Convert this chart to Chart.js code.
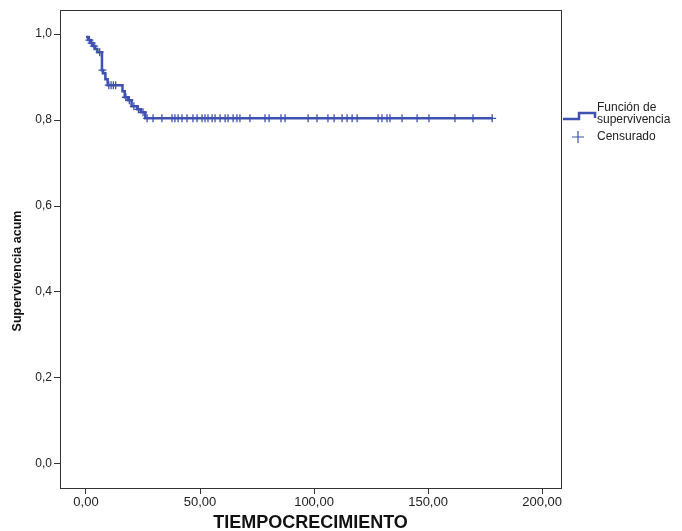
<!DOCTYPE html>
<html>
<head>
<meta charset="utf-8">
<script src="https://cdn.jsdelivr.net/npm/chart.js@4/dist/chart.umd.min.js"></script>
<style>
  html, body { margin: 0; padding: 0; background: #fff; }
  #wrap { width: 682px; height: 531px; position: relative; }
</style>
</head>
<body>
<div id="wrap"><canvas id="c" width="682" height="531"></canvas></div>
<script>
// ---- Data ----
const stepTimes = [0, 1, 2, 3, 4, 5, 7, 7.5, 8.5, 9.5, 16, 17, 18.5, 20, 22.5, 24, 26, 178.5];
const stepSurv  = [0.993, 0.986, 0.979, 0.972, 0.965, 0.958, 0.916, 0.909, 0.895, 0.881, 0.867, 0.853, 0.846, 0.832, 0.825, 0.818, 0.804, 0.804];
const censorTimes = [1.5, 2.5, 3.5, 6, 7.2, 10, 11, 12, 13, 17.5, 19, 21, 23, 25,
  26.8, 29.4, 33.3, 37.7, 39.0, 40.4, 42.1, 44.3, 46.9, 48.7, 50.9, 52.2, 53.5, 55.3, 56.6,
  58.8, 61.0, 62.3, 64.5, 66.2, 67.5, 71.9, 78.5, 80.3, 85.5, 87.3, 97.4, 101.3, 106.1,
  108.8, 112.3, 114.5, 116.7, 118.9, 128.1, 129.8, 132.0, 133.3, 138.6, 145.2, 150.4,
  161.8, 169.7, 178.1];
const xTicks = [0, 50, 100, 150, 200];
const yTicks = [0, 0.2, 0.4, 0.6, 0.8, 1.0];
const xTitle = 'TIEMPOCRECIMIENTO';
const yTitle = 'Supervivencia acum';
const legendLabels = ['Función de', 'supervivencia', 'Censurado'];

// survival value of the step function at time t (censor marks sit on the curve)
function survAt(t) {
  let s = stepSurv[0];
  for (let i = 0; i < stepTimes.length; i++) if (stepTimes[i] <= t) s = stepSurv[i];
  return s;
}

const BLUE = '#3F51B0';
const FONT = 'Arial, "Liberation Sans", sans-serif';

const framePlugin = {
  id: 'frame',
  afterDraw(chart) {
    const {ctx, chartArea: a} = chart;
    ctx.save();
    ctx.strokeStyle = '#333';
    ctx.lineWidth = 1;
    ctx.strokeRect(Math.round(a.left) + 0.5, Math.round(a.top) + 0.5,
                   Math.round(a.right - a.left), Math.round(a.bottom - a.top));
    // y axis title (placed as in the reference, below centre)
    ctx.save();
    ctx.translate(18, 271);
    ctx.rotate(-Math.PI / 2);
    ctx.fillStyle = '#111';
    ctx.font = 'bold 12.5px ' + FONT;
    ctx.textAlign = 'center';
    ctx.textBaseline = 'middle';
    ctx.fillText(yTitle, 0, 0);
    ctx.restore();
    // legend
    ctx.strokeStyle = BLUE;
    ctx.lineWidth = 2.5;
    ctx.beginPath();
    ctx.moveTo(563, 119); ctx.lineTo(579, 119); ctx.lineTo(579, 113);
    ctx.lineTo(595, 113); ctx.lineTo(595, 118);
    ctx.stroke();
    ctx.lineWidth = 1.2;
    ctx.beginPath();
    ctx.moveTo(572, 137); ctx.lineTo(584, 137);
    ctx.moveTo(578, 131); ctx.lineTo(578, 143);
    ctx.stroke();
    ctx.fillStyle = '#222';
    ctx.font = '12px ' + FONT;
    ctx.textBaseline = 'middle';
    ctx.textAlign = 'left';
    ctx.fillText(legendLabels[0], 597, 108);
    ctx.fillText(legendLabels[1], 597, 120);
    ctx.fillText(legendLabels[2], 597, 137);
    ctx.restore();
  }
};

new Chart(document.getElementById('c'), {
  type: 'line',
  data: {
    datasets: [
      {
        label: 'Función de supervivencia',
        data: stepTimes.map((t, i) => ({x: t, y: stepSurv[i]})),
        stepped: 'before',
        borderColor: BLUE,
        borderWidth: 2.5,
        pointRadius: 0,
        fill: false
      },
      {
        label: 'Censurado',
        data: censorTimes.map(t => ({x: t, y: survAt(t)})),
        showLine: false,
        pointStyle: 'cross',
        pointRadius: 4,
        borderColor: BLUE,
        backgroundColor: BLUE,
        pointBorderWidth: 1.3
      }
    ]
  },
  plugins: [framePlugin],
  options: {
    responsive: false,
    animation: false,
    events: [],
    layout: { padding: { top: 10, right: 121, left: 0, bottom: 0 } },
    plugins: { legend: { display: false }, tooltip: { enabled: false } },
    scales: {
      x: {
        type: 'linear',
        min: -11.4, max: 208.3,
        afterBuildTicks: s => { s.ticks = xTicks.map(v => ({value: v})); },
        afterFit: s => { s.height = 43; },
        grid: { drawOnChartArea: false, drawTicks: true, tickLength: 6, color: '#333' },
        border: { display: true, color: '#333' },
        ticks: {
          color: '#222', font: { family: FONT, size: 13 }, padding: 1, maxRotation: 0,
          callback: v => v.toFixed(2).replace('.', ',')
        },
        title: { display: true, text: xTitle, color: '#111',
                 font: { family: FONT, size: 18, weight: 'bold' }, padding: { top: 0, bottom: -3 } }
      },
      y: {
        type: 'linear',
        min: -0.056, max: 1.056,
        afterBuildTicks: s => { s.ticks = yTicks.map(v => ({value: v})); },
        afterFit: s => { s.width = 60; },
        grid: { drawOnChartArea: false, drawTicks: true, tickLength: 6, color: '#333' },
        border: { display: true, color: '#333' },
        ticks: {
          color: '#222', font: { family: FONT, size: 12 }, padding: 2,
          callback: v => v.toFixed(1).replace('.', ',')
        },
        title: { display: false }
      }
    }
  }
});
</script>
</body>
</html>
